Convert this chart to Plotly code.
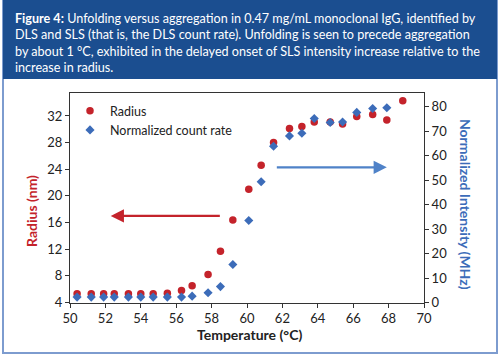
import plotly.graph_objects as go

# ---- data ----
radius_temp = [50.4, 51.2, 51.9, 52.5, 53.3, 54.0, 54.7, 55.5, 56.3, 56.9, 57.8, 58.5, 59.2,
               60.1, 60.8, 61.5, 62.4, 63.1, 63.8, 64.7, 65.4, 66.2, 67.1, 67.9, 68.8]
radius_nm = [5.3, 5.3, 5.3, 5.3, 5.3, 5.3, 5.3, 5.4, 5.8, 6.5, 8.2, 11.7, 16.4,
             21.0, 24.6, 28.0, 30.1, 30.4, 31.1, 31.1, 30.8, 31.9, 32.2, 31.4, 34.3]
count_temp = [50.4, 51.2, 51.9, 52.5, 53.3, 54.0, 54.7, 55.5, 56.3, 56.9, 57.8, 58.5, 59.2,
              60.1, 60.8, 61.5, 62.4, 63.1, 63.8, 64.7, 65.4, 66.2, 67.1, 67.9]
count_mhz = [2.2, 2.2, 2.2, 2.2, 2.2, 2.2, 2.2, 2.2, 2.2, 2.6, 4.0, 6.5, 15.5,
             33.5, 49.3, 63.8, 68.0, 69.1, 75.1, 73.5, 73.7, 77.6, 79.2, 79.5]
x_ticks = list(range(50, 71, 2))
y_left_ticks = list(range(4, 33, 4))
y_right_ticks = list(range(0, 81, 10))

RED = "#c4232b"
BLUE = "#3c6cb9"
ARROW_BLUE = "#4f82c8"
BANNER = "#1b4e90"
BORDER = "#7d9ccf"
FONT = "Lato"

W, H = 500, 356
def px(x):
    return x / W
def py(y):
    return 1 - y / H

fig = go.Figure()
fig.add_trace(go.Scatter(x=radius_temp, y=radius_nm, mode="markers", name="Radius",
                         marker=dict(symbol="circle", size=7.5, color=RED), yaxis="y"))
fig.add_trace(go.Scatter(x=count_temp, y=count_mhz, mode="markers", name="Normalized count rate",
                         marker=dict(symbol="diamond", size=7, color=BLUE), yaxis="y2"))

axis_common = dict(showline=True, linecolor="#333", linewidth=1, ticks="outside", ticklen=4,
                   tickcolor="#333", showgrid=False, zeroline=False, automargin=False,
                   tickfont=dict(family=FONT, size=13, color="#222"))

fig.update_layout(
    width=W, height=H,
    margin=dict(l=0, r=0, t=0, b=0, autoexpand=False),
    paper_bgcolor="white", plot_bgcolor="white",
    font=dict(family=FONT),
    showlegend=True,
    legend=dict(x=px(70), y=py(96), xanchor="left", yanchor="top", bgcolor="rgba(0,0,0,0)",
                font=dict(family=FONT, size=12.5, color="#222"), itemsizing="trace",
                itemwidth=30, tracegroupgap=2),
    xaxis=dict(domain=[px(70), px(424)], range=[50, 70], tickvals=x_ticks, mirror=True,
               anchor="y", **axis_common),
    yaxis=dict(domain=[py(302.5), py(93.3)], range=[4, 35.4], tickvals=y_left_ticks,
               anchor="x", **axis_common),
    yaxis2=dict(domain=[py(302.5), py(93.3)], range=[0, 85.4], tickvals=y_right_ticks,
                overlaying="y", side="right", anchor="x", **axis_common),
)

# frame and banner
fig.add_shape(type="rect", xref="paper", yref="paper", x0=px(3), x1=px(497), y0=py(353), y1=py(0.5),
              line=dict(color=BORDER, width=2), fillcolor="white", layer="below")
fig.add_shape(type="rect", xref="paper", yref="paper", x0=px(3), x1=px(497), y0=py(79), y1=py(0),
              line=dict(width=0), fillcolor=BANNER, layer="below")

fig.add_annotation(xref="paper", yref="paper", x=px(13), y=py(9), xanchor="left", yanchor="top",
                   align="left", showarrow=False,
                   text=("<b>Figure 4:</b> Unfolding versus aggregation in 0.47 mg/mL monoclonal IgG, identified by<br>"
                         "DLS and SLS (that is, the DLS count rate). Unfolding is seen to precede aggregation<br>"
                         "by about 1 °C, exhibited in the delayed onset of SLS intensity increase relative to the<br>"
                         "increase in radius."),
                   font=dict(family=FONT, size=12.6, color="white"))

# axis titles
fig.add_annotation(xref="paper", yref="paper", x=px(32), y=py(211), textangle=-90, showarrow=False,
                   xanchor="center", yanchor="middle",
                   text="<b>Radius (nm)</b>", font=dict(family=FONT, size=14, color=RED))
fig.add_annotation(xref="paper", yref="paper", x=px(465), y=py(204), textangle=90, showarrow=False,
                   xanchor="center", yanchor="middle",
                   text="<b>Normalized Intensity (MHz)</b>", font=dict(family=FONT, size=14, color=BLUE))
fig.add_annotation(xref="paper", yref="paper", x=px(249), y=py(334), showarrow=False,
                   xanchor="center", yanchor="middle",
                   text="<b>Temperature (°C)</b>", font=dict(family=FONT, size=14, color="#222"))

# arrows
fig.add_annotation(x=52.3, y=17.0, ax=58.55, ay=17.0, xref="x", yref="y", axref="x", ayref="y",
                   showarrow=True, arrowhead=2, arrowsize=1.2, arrowwidth=2.2, arrowcolor=RED, text="")
fig.add_annotation(x=67.9, y=55.2, ax=61.6, ay=55.2, xref="x", yref="y2", axref="x", ayref="y2",
                   showarrow=True, arrowhead=2, arrowsize=1.2, arrowwidth=2.2, arrowcolor=ARROW_BLUE, text="")

fig.write_html("out.html", config={"displayModeBar": False},
               post_script="document.body.style.margin='0';document.body.style.padding='0';")
